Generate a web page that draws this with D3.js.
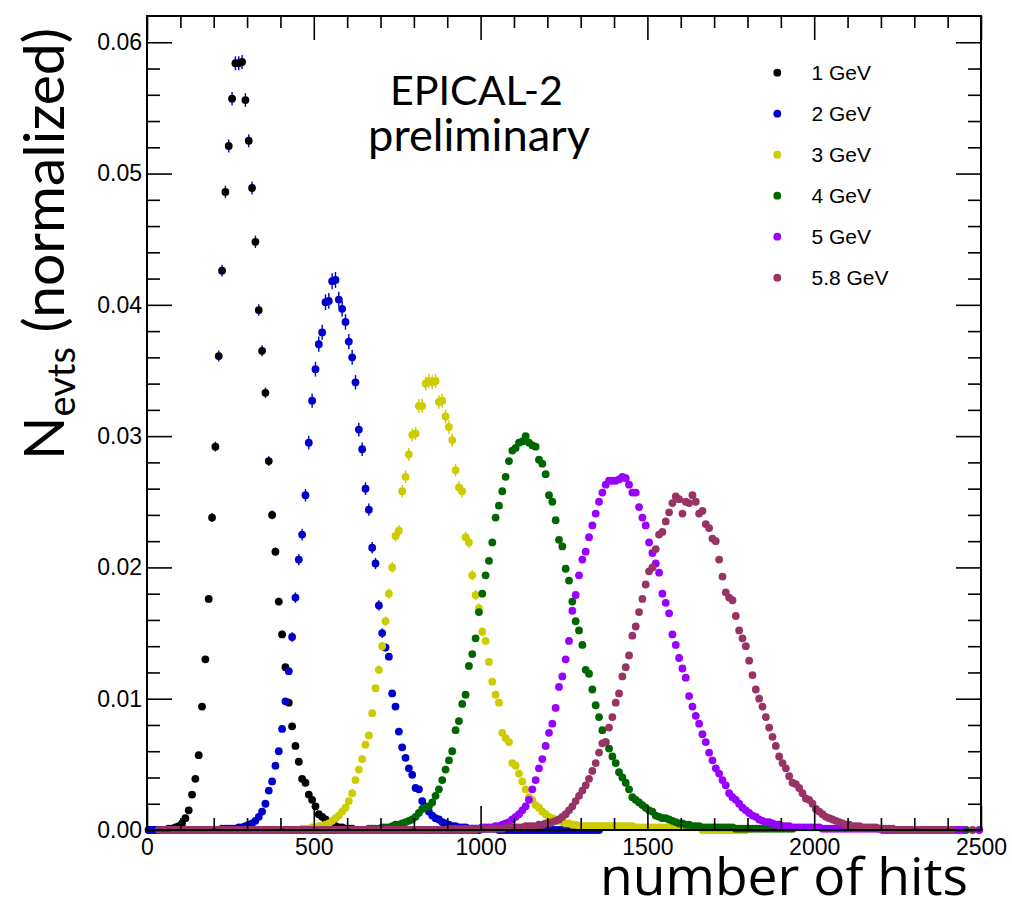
<!DOCTYPE html>
<html><head><meta charset="utf-8">
<script src="https://cdn.jsdelivr.net/npm/d3@7"></script>
<style>body{margin:0;background:#fff}</style>
</head><body>
<svg id="c" width="1012" height="912"></svg>
<script>
// ---------------- DATA ----------------
const binWidth = 10;                       // hits per bin (bin centres at start + 10*i)
const seriesLabels = ["1 GeV","2 GeV","3 GeV","4 GeV","5 GeV","5.8 GeV"];
const seriesColors = ["#000000","#0000cc","#cccc00","#006600","#9900ff","#993366"];
const errColors    = ["#0000dd","#0000cc","#cccc00","#006600","#9900ff","#993366"];
const xTicks = [0,500,1000,1500,2000,2500];
const yTicks = [0.00,0.01,0.02,0.03,0.04,0.05,0.06];

const blackStart = 45;
const blackValues = [
 0.0000,0.0000,0.0001,0.0001,0.0002,0.0003,0.0005,0.0009,0.0015,0.0027,
 0.0039,0.0057,0.0094,0.0130,0.0176,0.0238,0.0292,0.0361,0.0426,0.0486,
 0.0521,0.0557,0.0584,0.0584,0.0585,0.0556,0.0525,0.0489,0.0448,0.0396,
 0.0365,0.0333,0.0281,0.0240,0.0212,0.0174,0.0149,0.0124,0.0097,0.0079,
 0.0064,0.0052,0.0039,0.0036,0.0027,0.0023,0.0018,0.0012,0.0010,0.0008,
 0.0006,0.0004,0.0003,0.0002,0.0002,0.0001,0.0001,0.0001];
const blackEmpty = [[5,35],[625,995]];
const blackErrStart = 185;
const blackErr = [0.00029,0.00034,0.00038,0.00042,0.00045,0.00048,0.00050,0.00052,0.00053,0.00053,
 0.00053,0.00052,0.00050,0.00049,0.00047,0.00044,0.00042,0.00040,0.00037,0.00034,0.00032,0.00029,0.00027];

const blueStart = 215;
const blueValues = [
 0.0000,0.0001,0.0001,0.0001,0.0001,0.0001,0.0002,0.0002,0.0003,0.0004,
 0.0005,0.0007,0.0010,0.0014,0.0020,0.0030,0.0037,0.0049,0.0060,0.0077,
 0.0098,0.0121,0.0147,0.0177,0.0206,0.0225,0.0255,0.0295,0.0327,0.0351,
 0.0370,0.0379,0.0402,0.0403,0.0418,0.0419,0.0404,0.0397,0.0387,0.0372,
 0.0360,0.0341,0.0305,0.0290,0.0260,0.0244,0.0215,0.0203,0.0171,0.0150,
 0.0139,0.0132,0.0104,0.0094,0.0075,0.0063,0.0055,0.0047,0.0042,0.0032,
 0.0031,0.0022,0.0018,0.0014,0.0011,0.0009,0.0008,0.0006,0.0005,0.0004,
 0.0003,0.0003,0.0002,0.0002,0.0002,0.0001,0.0001,0.0001,0.0001,0.0001,
 0.0001,0.0001,0.0001,0.0001,0.0000];
const blueEmpty = [[5,205],[1065,1355]];
const blueErrStart = 435;
const blueErr = [0.00036,0.00040,0.00043,0.00045,0.00048,0.00052,0.00054,0.00056,0.00058,0.00058,
 0.00060,0.00060,0.00061,0.00061,0.00060,0.00060,0.00059,0.00058,0.00057,0.00055,
 0.00052,0.00051,0.00048,0.00047,0.00044,0.00043,0.00039,0.00037];

const yellowStart = 455;
const yellowValues = [
 0.0000,0.0001,0.0001,0.0001,0.0002,0.0002,0.0003,0.0003,0.0004,0.0005,
 0.0007,0.0009,0.0011,0.0014,0.0017,0.0022,0.0028,0.0038,0.0046,0.0054,
 0.0065,0.0072,0.0089,0.0108,0.0122,0.0140,0.0159,0.0180,0.0200,0.0224,
 0.0228,0.0258,0.0269,0.0286,0.0301,0.0302,0.0323,0.0323,0.0340,0.0342,
 0.0341,0.0342,0.0326,0.0327,0.0315,0.0307,0.0297,0.0274,0.0261,0.0258,
 0.0223,0.0219,0.0194,0.0179,0.0169,0.0151,0.0144,0.0128,0.0113,0.0103,
 0.0097,0.0074,0.0070,0.0067,0.0051,0.0049,0.0043,0.0037,0.0031,0.0025,
 0.0023,0.0019,0.0017,0.0014,0.0012,0.0010,0.0009,0.0008,0.0007,0.0006,
 0.0005,0.0005,0.0004,0.0004,0.0003,0.0003,0.0003,0.0003,0.0003,0.0003,
 0.0003,0.0003,0.0003,0.0003,0.0003,0.0003,0.0003,0.0003,0.0003,0.0003,
 0.0003,0.0002,0.0002,0.0002,0.0002,0.0002,0.0002,0.0002,0.0002,0.0002,
 0.0002,0.0002,0.0002,0.0002,0.0002,0.0002,0.0002,0.0002,0.0002,0.0002,
 0.0002];
const yellowEmpty = [[265,445],[1665,1795]];
const yellowErrStart = 695;
const yellowErr = [0.00032,0.00034,0.00037,0.00039,0.00041,0.00043,0.00044,0.00047,0.00048,0.00049,
 0.00050,0.00050,0.00052,0.00052,0.00053,0.00054,0.00054,0.00054,0.00052,0.00052,
 0.00051,0.00051,0.00050,0.00048,0.00047,0.00047,0.00043,0.00043,0.00040,0.00039,0.00038,0.00036];

const greenStart = 665;
const greenValues = [
 0.0001,0.0001,0.0001,0.0001,0.0002,0.0002,0.0002,0.0003,0.0004,0.0004,
 0.0005,0.0006,0.0007,0.0008,0.0010,0.0013,0.0016,0.0017,0.0018,0.0021,
 0.0026,0.0031,0.0038,0.0046,0.0053,0.0060,0.0076,0.0083,0.0096,0.0103,
 0.0125,0.0134,0.0146,0.0166,0.0180,0.0194,0.0205,0.0219,0.0238,0.0247,
 0.0258,0.0269,0.0281,0.0289,0.0291,0.0295,0.0296,0.0300,0.0295,0.0293,
 0.0292,0.0282,0.0279,0.0271,0.0255,0.0250,0.0236,0.0221,0.0216,0.0199,
 0.0190,0.0174,0.0159,0.0152,0.0141,0.0122,0.0119,0.0107,0.0095,0.0086,
 0.0076,0.0067,0.0062,0.0056,0.0051,0.0044,0.0040,0.0036,0.0031,0.0025,
 0.0023,0.0021,0.0019,0.0017,0.0015,0.0014,0.0011,0.0010,0.0009,0.0009,
 0.0008,0.0007,0.0006,0.0005,0.0005,0.0004,0.0004,0.0003,0.0003,0.0003,
 0.0002,0.0002,0.0002,0.0002,0.0002,0.0002,0.0002,0.0002,0.0002,0.0002,
 0.0001,0.0001,0.0001,0.0001,0.0001,0.0001,0.0001,0.0001,0.0001,0.0001,
 0.0001,0.0001,0.0001,0.0001,0.0001,0.0001,0.0001,0.0001];
const greenEmpty = [[405,655],[2455,2455]];

const purpleStart = 895;
const purpleValues = [
 0.0000,0.0001,0.0001,0.0001,0.0001,0.0001,0.0001,0.0001,0.0001,0.0001,
 0.0001,0.0002,0.0002,0.0002,0.0002,0.0003,0.0003,0.0004,0.0005,0.0006,
 0.0008,0.0010,0.0012,0.0015,0.0018,0.0023,0.0031,0.0038,0.0047,0.0054,
 0.0064,0.0074,0.0081,0.0093,0.0109,0.0117,0.0130,0.0144,0.0167,0.0179,
 0.0194,0.0206,0.0212,0.0223,0.0232,0.0241,0.0250,0.0257,0.0263,0.0266,
 0.0266,0.0266,0.0267,0.0269,0.0268,0.0263,0.0257,0.0257,0.0246,0.0238,
 0.0232,0.0219,0.0211,0.0203,0.0196,0.0180,0.0173,0.0165,0.0149,0.0141,
 0.0131,0.0123,0.0116,0.0102,0.0094,0.0087,0.0081,0.0073,0.0067,0.0059,
 0.0053,0.0047,0.0043,0.0038,0.0034,0.0028,0.0025,0.0023,0.0020,0.0017,
 0.0015,0.0013,0.0011,0.0010,0.0008,0.0007,0.0006,0.0006,0.0005,0.0004,
 0.0004,0.0003,0.0003,0.0003,0.0002,0.0002,0.0002,0.0002,0.0002,0.0002,
 0.0002,0.0002,0.0002,0.0001,0.0001,0.0001,0.0001,0.0001,0.0001,0.0001,
 0.0001,0.0001,0.0001,0.0001,0.0001,0.0001,0.0001,0.0001,0.0001,0.0001,
 0.0001];
const purpleEmpty = [[45,885],[2205,2445],[2495,2495]];

const maroonStart = 995;
const maroonValues = [
 0.0001,0.0001,0.0001,0.0001,0.0001,0.0001,0.0001,0.0001,0.0002,0.0002,
 0.0002,0.0002,0.0002,0.0002,0.0003,0.0003,0.0003,0.0003,0.0004,0.0004,
 0.0005,0.0005,0.0006,0.0007,0.0008,0.0010,0.0012,0.0015,0.0018,0.0022,
 0.0026,0.0030,0.0034,0.0039,0.0045,0.0051,0.0059,0.0066,0.0067,0.0078,
 0.0086,0.0097,0.0104,0.0117,0.0124,0.0133,0.0148,0.0155,0.0166,0.0176,
 0.0187,0.0197,0.0200,0.0214,0.0225,0.0227,0.0235,0.0242,0.0249,0.0254,
 0.0252,0.0241,0.0250,0.0249,0.0255,0.0250,0.0241,0.0243,0.0233,0.0230,
 0.0222,0.0220,0.0206,0.0193,0.0181,0.0177,0.0175,0.0163,0.0152,0.0146,
 0.0140,0.0129,0.0118,0.0107,0.0100,0.0094,0.0086,0.0078,0.0071,0.0064,
 0.0056,0.0051,0.0047,0.0041,0.0036,0.0035,0.0032,0.0028,0.0024,0.0023,
 0.0020,0.0016,0.0014,0.0012,0.0010,0.0009,0.0008,0.0007,0.0006,0.0005,
 0.0004,0.0004,0.0003,0.0003,0.0003,0.0002,0.0002,0.0002,0.0002,0.0002,
 0.0001,0.0001,0.0001,0.0001,0.0001];
const maroonEmpty = [[35,985],[2245,2415],[2475,2475]];

// ---------------- BUILD ----------------
function bins(start, values, empty) {
  const pts = values.map((v,i)=>({x:start+i*binWidth, y:v}));
  empty.forEach(([a,b]) => d3.range(a, b+1, binWidth).forEach(c => pts.push({x:c, y:0})));
  return pts;
}
function errs(start, e, values, vStart) {
  return e.map((d,i)=>{ const xc = start+i*binWidth; return {x:xc, y:values[(xc-vStart)/binWidth], e:d}; });
}
const series = [
  {pts:bins(blackStart,blackValues,blackEmpty),  err:errs(blackErrStart,blackErr,blackValues,blackStart)},
  {pts:bins(blueStart,blueValues,blueEmpty),     err:errs(blueErrStart,blueErr,blueValues,blueStart)},
  {pts:bins(yellowStart,yellowValues,yellowEmpty),err:errs(yellowErrStart,yellowErr,yellowValues,yellowStart)},
  {pts:bins(greenStart,greenValues,greenEmpty),  err:[]},
  {pts:bins(purpleStart,purpleValues,purpleEmpty),err:[]},
  {pts:bins(maroonStart,maroonValues,maroonEmpty),err:[]}
];

const svg = d3.select("#c");
const m = {l:147, t:16, r:981, b:830};
const x = d3.scaleLinear().domain([0,2500]).range([m.l,m.r]);
const y = d3.scaleLinear().domain([0,0.062]).range([m.b,m.t]);
const axisFont = "'Liberation Sans', Arial, Helvetica, sans-serif";
const titleFont = "Lato, 'Open Sans', sans-serif";
const xTitleFont = "'Open Sans', Lato, sans-serif";

// data
series.forEach((s,k)=>{
  const g = svg.append("g");
  g.selectAll("line").data(s.err).join("line")
    .attr("x1",d=>x(d.x)).attr("x2",d=>x(d.x))
    .attr("y1",d=>y(d.y-d.e)).attr("y2",d=>y(d.y+d.e))
    .attr("stroke",errColors[k]).attr("stroke-width",1.4);
  g.selectAll("circle").data(s.pts).join("circle")
    .attr("cx",d=>x(d.x)).attr("cy",d=>y(d.y)).attr("r",3.9)
    .attr("fill",seriesColors[k]);
});

// axes
const xMinor = d3.range(0,2501,100).filter(v=>v%500!==0);
const yMinor = d3.range(0,31).map(i=>+(i*0.002).toFixed(3)).filter(v=>Math.round(v*1000)%10!==0);
function styleAxis(g){ g.select(".domain").remove(); g.selectAll("line").attr("stroke","#000").attr("stroke-width",1.6);
  g.selectAll("text").attr("font-family",axisFont).attr("font-size",23).attr("fill","#000"); }
svg.append("g").attr("transform",`translate(0,${m.b})`)
  .call(d3.axisBottom(x).tickValues(xTicks).tickSize(-24).tickPadding(9).tickFormat(d3.format("d"))).call(styleAxis);
svg.append("g").attr("transform",`translate(0,${m.b})`)
  .call(d3.axisBottom(x).tickValues(xMinor).tickSize(-12).tickFormat("")).call(styleAxis);
svg.append("g").attr("transform",`translate(0,${m.t})`)
  .call(d3.axisTop(x).tickValues(xTicks).tickSize(-24).tickFormat("")).call(styleAxis);
svg.append("g").attr("transform",`translate(0,${m.t})`)
  .call(d3.axisTop(x).tickValues(xMinor).tickSize(-12).tickFormat("")).call(styleAxis);
svg.append("g").attr("transform",`translate(${m.l},0)`)
  .call(d3.axisLeft(y).tickValues(yTicks).tickSize(-25).tickPadding(5).tickFormat(d3.format(".2f"))).call(styleAxis);
svg.append("g").attr("transform",`translate(${m.l},0)`)
  .call(d3.axisLeft(y).tickValues(yMinor).tickSize(-13).tickFormat("")).call(styleAxis);
svg.append("g").attr("transform",`translate(${m.r},0)`)
  .call(d3.axisRight(y).tickValues(yTicks).tickSize(-25).tickFormat("")).call(styleAxis);
svg.append("g").attr("transform",`translate(${m.r},0)`)
  .call(d3.axisRight(y).tickValues(yMinor).tickSize(-13).tickFormat("")).call(styleAxis);
svg.append("rect").attr("x",m.l).attr("y",m.t).attr("width",m.r-m.l).attr("height",m.b-m.t)
  .attr("fill","none").attr("stroke","#000").attr("stroke-width",2);

// legend
const lg = svg.append("g");
seriesLabels.forEach((lab,i)=>{
  const cy = 72.7 + i*41;
  lg.append("circle").attr("cx",777.3).attr("cy",cy).attr("r",3.9).attr("fill",seriesColors[i]);
  lg.append("text").attr("x",811.5).attr("y",cy+7.6).attr("font-family",axisFont).attr("font-size",21)
    .attr("fill","#000").text(lab);
});

// titles, scaled to the reference extents
function fitText(t, target, base){ const L = t.node().getComputedTextLength(); return base*target/L; }
const t1 = svg.append("text").attr("font-family",titleFont).attr("font-size",40).attr("text-anchor","middle")
  .attr("x",476.5).attr("y",105).text("EPICAL-2");
t1.attr("font-size",fitText(t1,173,40));
const t2 = svg.append("text").attr("font-family",titleFont).attr("font-size",40).attr("text-anchor","middle")
  .attr("x",479).attr("y",151).text("preliminary");
t2.attr("font-size",fitText(t2,222,40));
const xt = svg.append("text").attr("font-family",xTitleFont).attr("font-size",51).attr("text-anchor","end")
  .attr("x",968).attr("y",895).attr("textLength",368).attr("lengthAdjust","spacingAndGlyphs").text("number of hits");
const yt = svg.append("text").attr("font-family",titleFont).attr("font-size",60)
  .attr("transform","translate(64,460) rotate(-90)");
yt.append("tspan").text("N");
yt.append("tspan").attr("class","sub").attr("font-size",40).attr("dy",12).text("evts");
yt.append("tspan").attr("dy",-12).text(" (normalized)");
const s = 432/yt.node().getComputedTextLength();
yt.attr("font-size",60*s); yt.select(".sub").attr("font-size",40*s).attr("dy",12*s);
yt.selectAll("tspan").filter((d,i)=>i===2).attr("dy",-12*s);
</script>
</body></html>
